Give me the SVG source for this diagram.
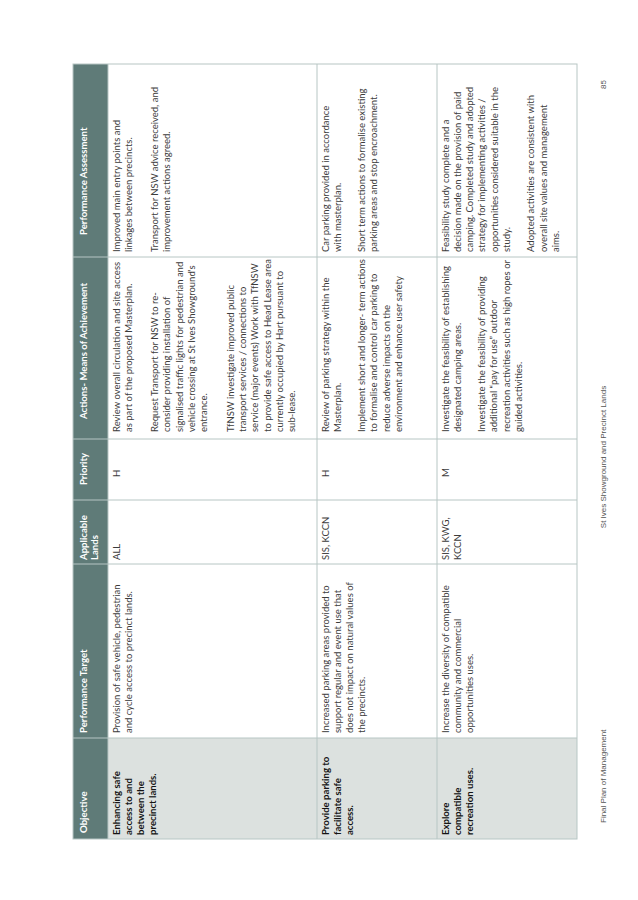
<svg xmlns="http://www.w3.org/2000/svg" width="638" height="900" viewBox="0 0 638 900">
<style>
.hd{font-family:Lato,"Liberation Sans",sans-serif;font-size:9.6px;font-weight:bold;fill:#ffffff}
.b{font-family:Lato,"Liberation Sans",sans-serif;font-size:9.5px;fill:#3c3c3c}
.ob{font-family:Lato,"Liberation Sans",sans-serif;font-size:9.6px;font-weight:bold;fill:#141414}
.ft{font-family:"Liberation Sans",Arial,sans-serif;font-size:8px;fill:#555555}
.grid{stroke:#b7c6c4;stroke-width:1;fill:none}
</style>
<rect width="638" height="900" fill="#ffffff"/>
<g transform="translate(0,900) rotate(-90)">
<g id="table-bg">
<rect x="61" y="73" width="775" height="35" fill="#5f7b78"/>
<rect x="61" y="108" width="101" height="469" fill="#dce1df"/>
</g>
<g id="grid" class="grid">
<rect x="61" y="73" width="775" height="504"/>
<line x1="61" y1="108" x2="836" y2="108"/>
<line x1="61" y1="317" x2="836" y2="317"/>
<line x1="61" y1="437" x2="836" y2="437"/>
<line x1="162" y1="73" x2="162" y2="577"/>
<line x1="336" y1="73" x2="336" y2="577"/>
<line x1="400" y1="73" x2="400" y2="577"/>
<line x1="461" y1="73" x2="461" y2="577"/>
<line x1="643" y1="73" x2="643" y2="577"/>
</g>
<g id="header">
<text class="hd" x="67" y="86.5">Objective</text>
<text class="hd" x="167" y="86.5">Performance Target</text>
<text class="hd" x="340" y="86.5">Applicable</text>
<text class="hd" x="340" y="97.5">Lands</text>
<text class="hd" x="415" y="86.5">Priority</text>
<text class="hd" x="481" y="86.5">Actions- Means of Achievement</text>
<text class="hd" x="665" y="86.5">Performance Assessment</text>
</g>
<g id="row1">
<text class="ob" x="65" y="119.5">Enhancing safe</text>
<text class="ob" x="65" y="131.8">access to and</text>
<text class="ob" x="65" y="144.1">between the</text>
<text class="ob" x="65" y="156.4">precinct lands.</text>
<text class="b" x="167" y="119.5">Provision of safe vehicle, pedestrian</text>
<text class="b" x="167" y="131.8">and cycle access to precinct lands.</text>
<text class="b" x="340" y="119.5">ALL</text>
<text class="b" x="423" y="119.5">H</text>
<text class="b" x="468" y="119.5">Review overall circulation and site access</text>
<text class="b" x="468" y="131.8">as part of the proposed Masterplan.</text>
<text class="b" x="468" y="158.1">Request Transport for NSW to  re-</text>
<text class="b" x="468" y="170.4">consider providing installation of</text>
<text class="b" x="468" y="182.7">signalised traffic lights for pedestrian and</text>
<text class="b" x="468" y="195.0">vehicle crossing at St Ives Showground's</text>
<text class="b" x="468" y="207.3">entrance.</text>
<text class="b" x="468" y="233.6">TfNSW investigate improved public</text>
<text class="b" x="468" y="245.9">transport services / connections to</text>
<text class="b" x="468" y="258.2">service (major events) Work with TfNSW</text>
<text class="b" x="468" y="270.5">to provide safe access to Head Lease area</text>
<text class="b" x="468" y="282.8">currently occupied by Hart pursuant to</text>
<text class="b" x="468" y="295.1">sub-lease.</text>
<text class="b" x="648" y="119.5">Improved main entry points and</text>
<text class="b" x="648" y="131.8">linkages between precincts.</text>
<text class="b" x="648" y="158.1">Transport for NSW advice received, and</text>
<text class="b" x="648" y="170.4">improvement actions agreed.</text>
</g>
<g id="row2">
<text class="ob" x="65" y="328.5">Provide parking to</text>
<text class="ob" x="65" y="340.8">facilitate safe</text>
<text class="ob" x="65" y="353.1">access.</text>
<text class="b" x="167" y="328.5">Increased parking areas provided to</text>
<text class="b" x="167" y="340.8">support regular and event use that</text>
<text class="b" x="167" y="353.1">does not impact on natural values of</text>
<text class="b" x="167" y="365.4">the precincts.</text>
<text class="b" x="340" y="328.5">SIS, KCCN</text>
<text class="b" x="423" y="328.5">H</text>
<text class="b" x="468" y="328.5">Review of parking strategy within the</text>
<text class="b" x="468" y="340.8">Masterplan.</text>
<text class="b" x="468" y="365.1">Implement short and longer- term actions</text>
<text class="b" x="468" y="377.4">to formalise and control car parking to</text>
<text class="b" x="468" y="389.7">reduce adverse impacts on the</text>
<text class="b" x="468" y="402.0">environment and enhance user safety</text>
<text class="b" x="648" y="328.5">Car parking provided in accordance</text>
<text class="b" x="648" y="340.8">with masterplan.</text>
<text class="b" x="648" y="365.1">Short term actions to formalise existing</text>
<text class="b" x="648" y="377.4">parking areas and stop encroachment.</text>
</g>
<g id="row3">
<text class="ob" x="65" y="448.5">Explore</text>
<text class="ob" x="65" y="460.8">compatible</text>
<text class="ob" x="65" y="473.1">recreation uses.</text>
<text class="b" x="167" y="448.5">Increase the diversity of compatible</text>
<text class="b" x="167" y="460.8">community and commercial</text>
<text class="b" x="167" y="473.1">opportunities uses.</text>
<text class="b" x="340" y="448.5">SIS, KWG,</text>
<text class="b" x="340" y="460.8">KCCN</text>
<text class="b" x="423" y="448.5">M</text>
<text class="b" x="468" y="448.5">Investigate the feasibility of establishing</text>
<text class="b" x="468" y="460.8">designated camping areas.</text>
<text class="b" x="468" y="485.1">Investigate the feasibility of providing</text>
<text class="b" x="468" y="497.4">additional “pay for use” outdoor</text>
<text class="b" x="468" y="509.7">recreation activities such as high ropes or</text>
<text class="b" x="468" y="522.0">guided activities.</text>
<text class="b" x="648" y="448.5">Feasibility study complete and a</text>
<text class="b" x="648" y="460.8">decision made on the provision of paid</text>
<text class="b" x="648" y="473.1">camping. Completed study and adopted</text>
<text class="b" x="648" y="485.4">strategy for implementing activities /</text>
<text class="b" x="648" y="497.7">opportunities considered suitable in the</text>
<text class="b" x="648" y="510.0">study.</text>
<text class="b" x="648" y="534.3">Adopted activities are consistent with</text>
<text class="b" x="648" y="546.6">overall site values and management</text>
<text class="b" x="648" y="558.9">aims.</text>
</g>
<g id="footer">
<text class="ft" x="77" y="605.5">Final Plan of Management</text>
<text class="ft" x="443" y="605.5" text-anchor="middle">St Ives Showground and Precinct Lands</text>
<text class="ft" x="820" y="605.5" text-anchor="end">85</text>
</g>
</g>
</svg>
